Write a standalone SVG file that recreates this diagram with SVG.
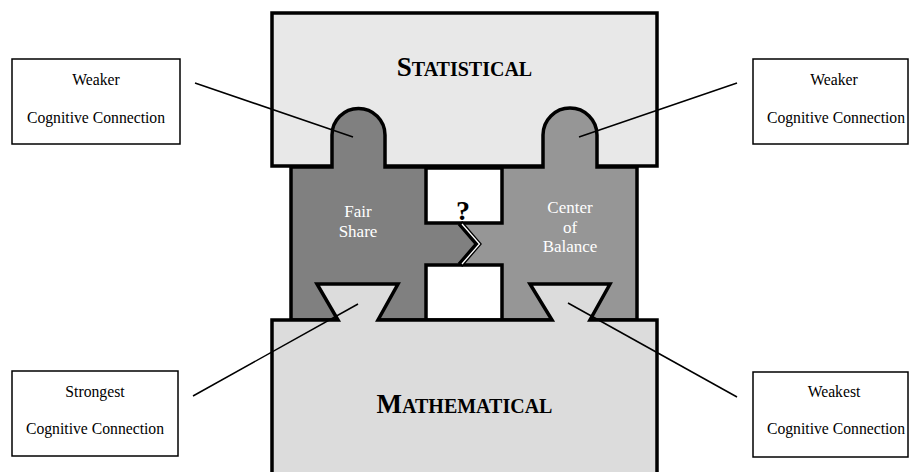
<svg xmlns="http://www.w3.org/2000/svg" width="909" height="472" viewBox="0 0 909 472">
<style>
.lbl rect{fill:#fff;stroke:#000;stroke-width:1.5}
.lbl text{font-family:"Liberation Serif","Times New Roman",serif;font-size:15.7px;fill:#000;text-anchor:middle}
.big{font-family:"Liberation Serif","Times New Roman",serif;font-weight:bold;fill:#000;text-anchor:middle}
.pt{font-family:"Liberation Serif","Times New Roman",serif;font-size:17px;fill:#fff;text-anchor:middle}
.out{stroke:#000;stroke-width:3.5;stroke-linejoin:miter}
#connectors line{stroke:#000;stroke-width:1.5}
</style>
<rect width="909" height="472" fill="#fff"/>
<g id="statistical">
<rect class="out" x="272" y="13" width="385" height="153" fill="#e8e8e8"/>
<text class="big" x="464.5" y="76"><tspan font-size="27">S</tspan><tspan font-size="20">TATISTICAL</tspan></text>
</g>
<g id="fair-share">
<path d="M291,167 H332 V135 A26.5,26.5 0 0 1 385,135 V167 H460 V223 L478,244 L460,265 V320 H291 Z" fill="#808080"/>
<text class="pt" x="358" y="217">Fair</text>
<text class="pt" x="358" y="237">Share</text>
</g>
<g id="center-of-balance">
<path d="M460,167 H543 V135 A27,27 0 0 1 597,135 V167 H637 V320 H460 V265 L478,244 L460,223 Z" fill="#969696"/>
<text class="pt" x="570" y="213">Center</text>
<text class="pt" x="570" y="233">of</text>
<text class="pt" x="570" y="252">Balance</text>
</g>
<path class="out" fill="none" d="M291,167 H332 V135 A26.5,26.5 0 0 1 385,135 V167 H543 V135 A27,27 0 0 1 597,135 V167 H637 V320 H291 Z"/>
<g id="gap">
<rect class="out" x="426" y="168" width="76" height="55" fill="#fff"/>
<rect class="out" x="426" y="265" width="76" height="55" fill="#fff"/>
<polyline points="460,223 478,244 460,265" fill="none" stroke="#000" stroke-width="6"/>
<polyline points="462,224 479.5,244 462,264" fill="none" stroke="#fff" stroke-width="1.3"/>
<text class="big" x="463" y="220" font-size="28">?</text>
</g>
<g id="mathematical">
<path class="out" fill="#dcdcdc" d="M272,480 V320 H338 L317,284 H398 L378,320 H552 L530,284 H610 L590,320 H657 V480"/>
<text class="big" x="464.5" y="413"><tspan font-size="27">M</tspan><tspan font-size="20">ATHEMATICAL</tspan></text>
</g>
<g id="connectors">
<line x1="195" y1="83" x2="353" y2="137"/>
<line x1="737" y1="83" x2="579" y2="137"/>
<line x1="193" y1="396" x2="358" y2="304"/>
<line x1="737" y1="397" x2="568" y2="303"/>
</g>
<g id="label-tl" class="lbl">
<rect x="12" y="59" width="168" height="85"/>
<text x="96" y="85">Weaker</text>
<text x="96" y="123">Cognitive Connection</text>
</g>
<g id="label-tr" class="lbl">
<rect x="753" y="59" width="155" height="85"/>
<text x="834" y="85">Weaker</text>
<text x="836" y="123">Cognitive Connection</text>
</g>
<g id="label-bl" class="lbl">
<rect x="12" y="371" width="166" height="85"/>
<text x="95" y="397">Strongest</text>
<text x="95" y="434">Cognitive Connection</text>
</g>
<g id="label-br" class="lbl">
<rect x="753" y="372" width="155" height="85"/>
<text x="834" y="397">Weakest</text>
<text x="836" y="434">Cognitive Connection</text>
</g>
</svg>
